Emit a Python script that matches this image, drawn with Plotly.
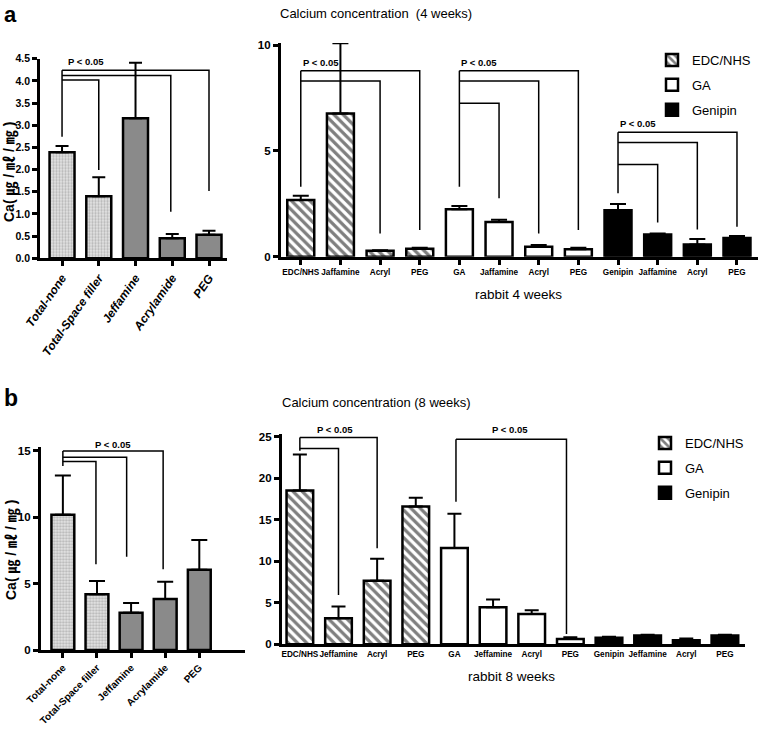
import plotly.graph_objects as go

# ---------------- DATA ----------------
left_cats = ["Total-none", "Total-Space filler", "Jeffamine", "Acrylamide", "PEG"]

a_left_vals = [2.39, 1.40, 3.16, 0.45, 0.53]
a_left_err_top = [2.53, 1.83, 4.41, 0.55, 0.62]

b_left_vals = [10.2, 4.2, 2.8, 3.85, 6.05]
b_left_err_top = [13.15, 5.2, 3.55, 5.15, 8.3]

groups = ["EDC/NHS", "GA", "Genipin"]
a_right_ticks = ["EDC/NHS", "Jaffamine", "Acryl", "PEG",
                 "GA", "Jaffamine", "Acryl", "PEG",
                 "Genipin", "Jaffamine", "Acryl", "PEG"]
b_right_ticks = ["EDC/NHS", "Jeffamine", "Acryl", "PEG",
                 "GA", "Jeffamine", "Acryl", "PEG",
                 "Genipin", "Jeffamine", "Acryl", "PEG"]

a_right_vals = [2.68, 6.77, 0.28, 0.38, 2.24, 1.64, 0.47, 0.35, 2.20, 1.05, 0.58, 0.88]
a_right_err_top = [2.88, 10.08, 0.31, 0.42, 2.40, 1.74, 0.55, 0.42, 2.49, 1.10, 0.84, 0.98]

b_right_vals = [18.5, 3.15, 7.65, 16.6, 11.6, 4.45, 3.65, 0.65, 0.8, 1.05, 0.5, 1.05]
b_right_err_top = [22.85, 4.55, 10.3, 17.65, 15.7, 5.4, 4.1, 0.85, 0.9, 1.15, 0.7, 1.15]

# significance brackets: (root x, root bottom, [(target x, level, drop end), ...])
a_left_brackets = [(0, 2.74, [(4, 4.24, 1.52), (2.96, 4.12, 1.05), (1, 4.02, 1.99)])]
a_right_brackets = [
    (0, 3.3, [(3, 8.79, 1.26), (2, 8.30, 1.10)]),
    (4, 3.3, [(7, 8.79, 1.26), (6, 8.30, 1.10), (5, 7.25, 2.76)]),
    (8, 3.0, [(11, 5.88, 1.42), (10, 5.39, 1.29), (9, 4.35, 1.61)]),
]
b_left_brackets = [(0, 13.87, [(2.94, 15.0, 6.08), (1.87, 14.52, 7.03), (0.97, 14.2, 6.46)])]
b_right_brackets = [
    (0, 23.3, [(2, 24.9, 11.55), (1, 23.58, 5.93)]),
    (4.04, 17.16, [(6.9, 24.67, 1.24)]),
]
# p-value labels: (x, bracket-top y, anchor)
a_left_p = [(0.1, 4.24, "left")]
a_right_p = [(0, 8.79, "left"), (4, 8.79, "left"), (8, 5.88, "left")]
b_left_p = [(1.47, 15.0, "center")]
b_right_p = [(0.92, 24.9, "center"), (5.44, 24.9, "center")]

# ---------------- STYLE ----------------
SANS = "Liberation Sans, Arial, sans-serif"
CJK = "Liberation Sans, Noto Sans CJK KR, sans-serif"

stipple = dict(shape=".", fgcolor="#8a8a8a", bgcolor="#e4e4e4", size=3, solidity=0.45)
hatch = dict(shape="\\", fgcolor="black", bgcolor="white", size=6.5, solidity=0.5)
group_style = {
    "EDC/NHS": dict(color="white", pattern=hatch),
    "GA": dict(color="white"),
    "Genipin": dict(color="black"),
}

fig = go.Figure()


def add_left(vals, errs, xa, ya, width, cap):
    n = len(vals)
    xs = list(range(n))
    kinds = ["stipple", "stipple", "gray", "gray", "gray"]
    for kind in ("stipple", "gray"):
        idx = [i for i in range(n) if kinds[i] == kind]
        marker = dict(line=dict(color="black", width=2.5))
        if kind == "stipple":
            marker.update(color="#e4e4e4", pattern=stipple)
        else:
            marker.update(color="#8a8a8a")
        fig.add_trace(go.Bar(
            x=[xs[i] for i in idx], y=[vals[i] for i in idx], width=width,
            marker=marker, xaxis=xa, yaxis=ya, showlegend=False,
            error_y=dict(type="data", symmetric=False,
                         array=[errs[i] - vals[i] for i in idx],
                         arrayminus=[0] * len(idx),
                         color="black", thickness=2, width=cap),
        ))


def add_right(vals, errs, xa, ya, width, legend, cap):
    for g, name in enumerate(groups):
        idx = list(range(g * 4, g * 4 + 4))
        st = group_style[name]
        marker = dict(color=st["color"], line=dict(color="black", width=2.5))
        if "pattern" in st:
            marker["pattern"] = st["pattern"]
        fig.add_trace(go.Bar(
            x=idx, y=[vals[i] for i in idx], width=width, name=name,
            marker=marker, xaxis=xa, yaxis=ya, legend=legend, legendgroup=name,
            error_y=dict(type="data", symmetric=False,
                         array=[errs[i] - vals[i] for i in idx],
                         arrayminus=[0] * 4,
                         color="black", thickness=2, width=cap),
        ))


add_left(a_left_vals, a_left_err_top, "x", "y", 0.68, 6.5)
add_right(a_right_vals, a_right_err_top, "x2", "y2", 0.68, "legend", 8)
add_left(b_left_vals, b_left_err_top, "x3", "y3", 0.67, 8)
add_right(b_right_vals, b_right_err_top, "x4", "y4", 0.69, "legend2", 7)

shapes = []
annotations = []


def brackets(spec, xr, yr):
    for root, rbot, lines in spec:
        top = max(l[1] for l in lines)
        shapes.append(dict(type="line", xref=xr, yref=yr, x0=root, x1=root, y0=rbot, y1=top,
                           line=dict(color="black", width=1.5)))
        for tx, lvl, yend in lines:
            shapes.append(dict(type="path", xref=xr, yref=yr,
                               path=f"M{root},{lvl} L{tx},{lvl} L{tx},{yend}",
                               line=dict(color="black", width=1.5)))


def ptext(spec, xr, yr, shift):
    for x, y, anc in spec:
        annotations.append(dict(x=x, y=y, xref=xr, yref=yr, text="P < 0.05", showarrow=False,
                                xanchor=anc, yanchor="middle", yshift=shift,
                                font=dict(family=SANS, size=9.5, color="black", weight="bold")))


brackets(a_left_brackets, "x", "y")
brackets(a_right_brackets, "x2", "y2")
brackets(b_left_brackets, "x3", "y3")
brackets(b_right_brackets, "x4", "y4")
ptext(a_left_p, "x", "y", 8.5)
ptext(a_right_p, "x2", "y2", 8.5)
ptext(b_left_p, "x3", "y3", 6.5)
ptext(b_right_p, "x4", "y4", 7.5)


def pa(text, px, py, size, family=SANS, weight="normal", xanchor="left", angle=0,
       yanchor="middle"):
    annotations.append(dict(x=px / 760, y=1 - py / 733, xref="paper", yref="paper", text=text,
                            showarrow=False, xanchor=xanchor, yanchor=yanchor, textangle=angle,
                            font=dict(family=family, size=size, color="black", weight=weight)))


pa("a", 2, 0, 22, SANS, "bold", yanchor="top")
pa("b", 2, 383, 23, SANS, "bold", yanchor="top")
pa("Calcium concentration  (4 weeks)", 278, 14, 13)
pa("Calcium concentration (8 weeks)", 280, 402, 13)
pa("rabbit 4 weeks", 518, 294, 13.5, xanchor="center")
pa("rabbit 8 weeks", 511, 676, 13.5, xanchor="center")
pa("Ca( ㎍ / ㎖ / ㎎ )", 10, 172, 14, CJK, "bold", xanchor="center", angle=-90)
pa("Ca( ㎍ / ㎖ / ㎎ )", 12, 550, 14, CJK, "bold", xanchor="center", angle=-90)

axis_common = dict(showline=True, linecolor="black", linewidth=3, ticks="outside",
                   tickcolor="black", tickwidth=2.5, ticklen=5, showgrid=False,
                   zeroline=False, fixedrange=True, automargin=False)


def xax(domain, rng, ticks, anchor, angle, fsize, italic=False, tickmarks="outside"):
    tt = [f"<i>{t}</i>" for t in ticks] if italic else ticks
    return dict(axis_common, domain=domain, range=rng, anchor=anchor,
                tickmode="array", tickvals=list(range(len(ticks))), ticktext=tt,
                tickangle=angle, ticks=tickmarks,
                tickfont=dict(family=SANS, size=fsize, color="black", weight="bold"))


def yax(domain, rng, anchor, dtick, fmt, fsize=11):
    return dict(axis_common, domain=domain, range=rng, anchor=anchor, dtick=dtick,
                tickformat=fmt, linewidth=2.5,
                tickfont=dict(family=SANS, size=fsize, color="black", weight="bold"))


fig.update_layout(
    width=760, height=733, margin=dict(l=0, r=0, t=0, b=0, autoexpand=False),
    paper_bgcolor="white", plot_bgcolor="white", barmode="overlay",
    xaxis=xax([40 / 760, 227 / 760], [-0.6, 4.49], left_cats, "y", -55, 12, italic=True),
    yaxis=yax([1 - 258.3 / 733, 1 - 58.7 / 733], [0, 4.5], "x", 0.5, ".1f", 10.5),
    xaxis2=xax([280.7 / 760, 758 / 760], [-0.506, 11.53], a_right_ticks, "y2", 0, 8.2),
    yaxis2=yax([1 - 256.7 / 733, 1 - 42.9 / 733], [0, 10.1], "x2", 5, "d", 11.5),
    xaxis3=xax([40.7 / 760, 245 / 760], [-0.65, 5.34], left_cats, "y3", -45, 10),
    yaxis3=yax([1 - 650 / 733, 1 - 447 / 733], [0, 15.3], "x3", 5, "d", 11.5),
    xaxis4=xax([281.7 / 760, 745 / 760], [-0.47, 11.52], b_right_ticks, "y4", 0, 8.2,
               tickmarks=""),
    yaxis4=yax([1 - 644.3 / 733, 1 - 434.1 / 733], [0, 25.3], "x4", 5, "d", 11.5),
    legend=dict(x=652 / 760, y=1 - 45 / 733, xanchor="left", yanchor="top",
                font=dict(family=SANS, size=13, color="black"), bgcolor="rgba(0,0,0,0)",
                tracegroupgap=5),
    legend2=dict(x=645 / 760, y=1 - 428 / 733, xanchor="left", yanchor="top",
                 font=dict(family=SANS, size=13, color="black"), bgcolor="rgba(0,0,0,0)",
                 tracegroupgap=5),
    shapes=shapes, annotations=annotations,
)

fig.write_html("out.html", config={"displayModeBar": False},
               post_script="document.body.style.margin='0px';")
